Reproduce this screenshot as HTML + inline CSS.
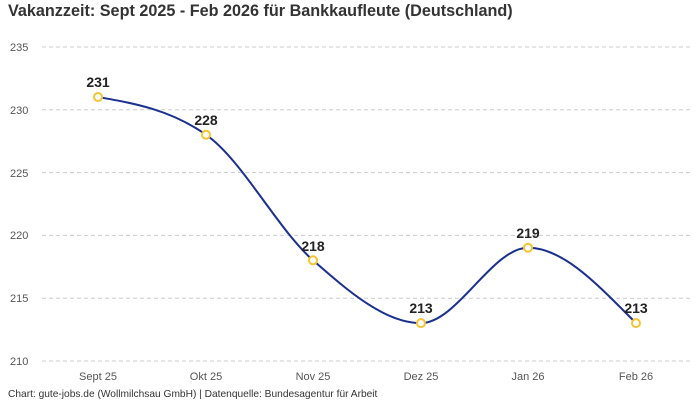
<!DOCTYPE html>
<html><head><meta charset="utf-8"><style>
body{margin:0;background:#fff;}
svg text{font-family:"Liberation Sans",sans-serif;}
</style></head><body>
<svg width="700" height="400" xmlns="http://www.w3.org/2000/svg">
<rect width="700" height="400" fill="#fff"/>
<text x="8" y="16" font-size="16.2" font-weight="bold" fill="#333">Vakanzzeit: Sept 2025 - Feb 2026 für Bankkaufleute (Deutschland)</text>
<g stroke="#ccc" stroke-dasharray="4,3" stroke-width="1">
<line x1="42" x2="692" y1="47" y2="47"/>
<line x1="42" x2="692" y1="109.8" y2="109.8"/>
<line x1="42" x2="692" y1="172.6" y2="172.6"/>
<line x1="42" x2="692" y1="235.4" y2="235.4"/>
<line x1="42" x2="692" y1="298.2" y2="298.2"/>
<line x1="42" x2="692" y1="361" y2="361"/>
</g>
<g font-size="11" fill="#555" text-anchor="start">
<text x="10" y="51">235</text><text x="10" y="114">230</text><text x="10" y="177">225</text>
<text x="10" y="239">220</text><text x="10" y="302">215</text><text x="10" y="365">210</text>
</g>
<g font-size="11" fill="#555" text-anchor="middle">
<text x="98" y="380">Sept 25</text><text x="206" y="380">Okt 25</text><text x="313" y="380">Nov 25</text>
<text x="421" y="380">Dez 25</text><text x="528" y="380">Jan 26</text><text x="636" y="380">Feb 26</text>
</g>
<path d="M98,97 C133.9,103.3 170.1,109.6 206,134.7 C241.9,159.8 277.5,228.9 313,260.3 C348.9,291.7 385.1,323.1 421,323.1 C456.9,323.1 492.1,247.8 528,247.8 C563.9,247.8 598.3,285.4 636,323.1" fill="none" stroke="#1a2f8f" stroke-width="2"/>
<g fill="#fff" stroke="#f5c431" stroke-width="2">
<circle cx="98" cy="97" r="4"/><circle cx="206" cy="134.7" r="4"/><circle cx="313" cy="260.3" r="4"/>
<circle cx="421" cy="323.1" r="4"/><circle cx="528" cy="247.8" r="4"/><circle cx="636" cy="323.1" r="4"/>
</g>
<g font-size="14" font-weight="bold" fill="#222" text-anchor="middle">
<text x="98" y="87">231</text><text x="206" y="125">228</text><text x="313" y="251">218</text>
<text x="421" y="313">213</text><text x="528" y="238">219</text><text x="636" y="313">213</text>
</g>
<text x="8" y="397" font-size="10.2" fill="#333">Chart: gute-jobs.de (Wollmilchsau GmbH) | Datenquelle: Bundesagentur für Arbeit</text>
</svg>
</body></html>
